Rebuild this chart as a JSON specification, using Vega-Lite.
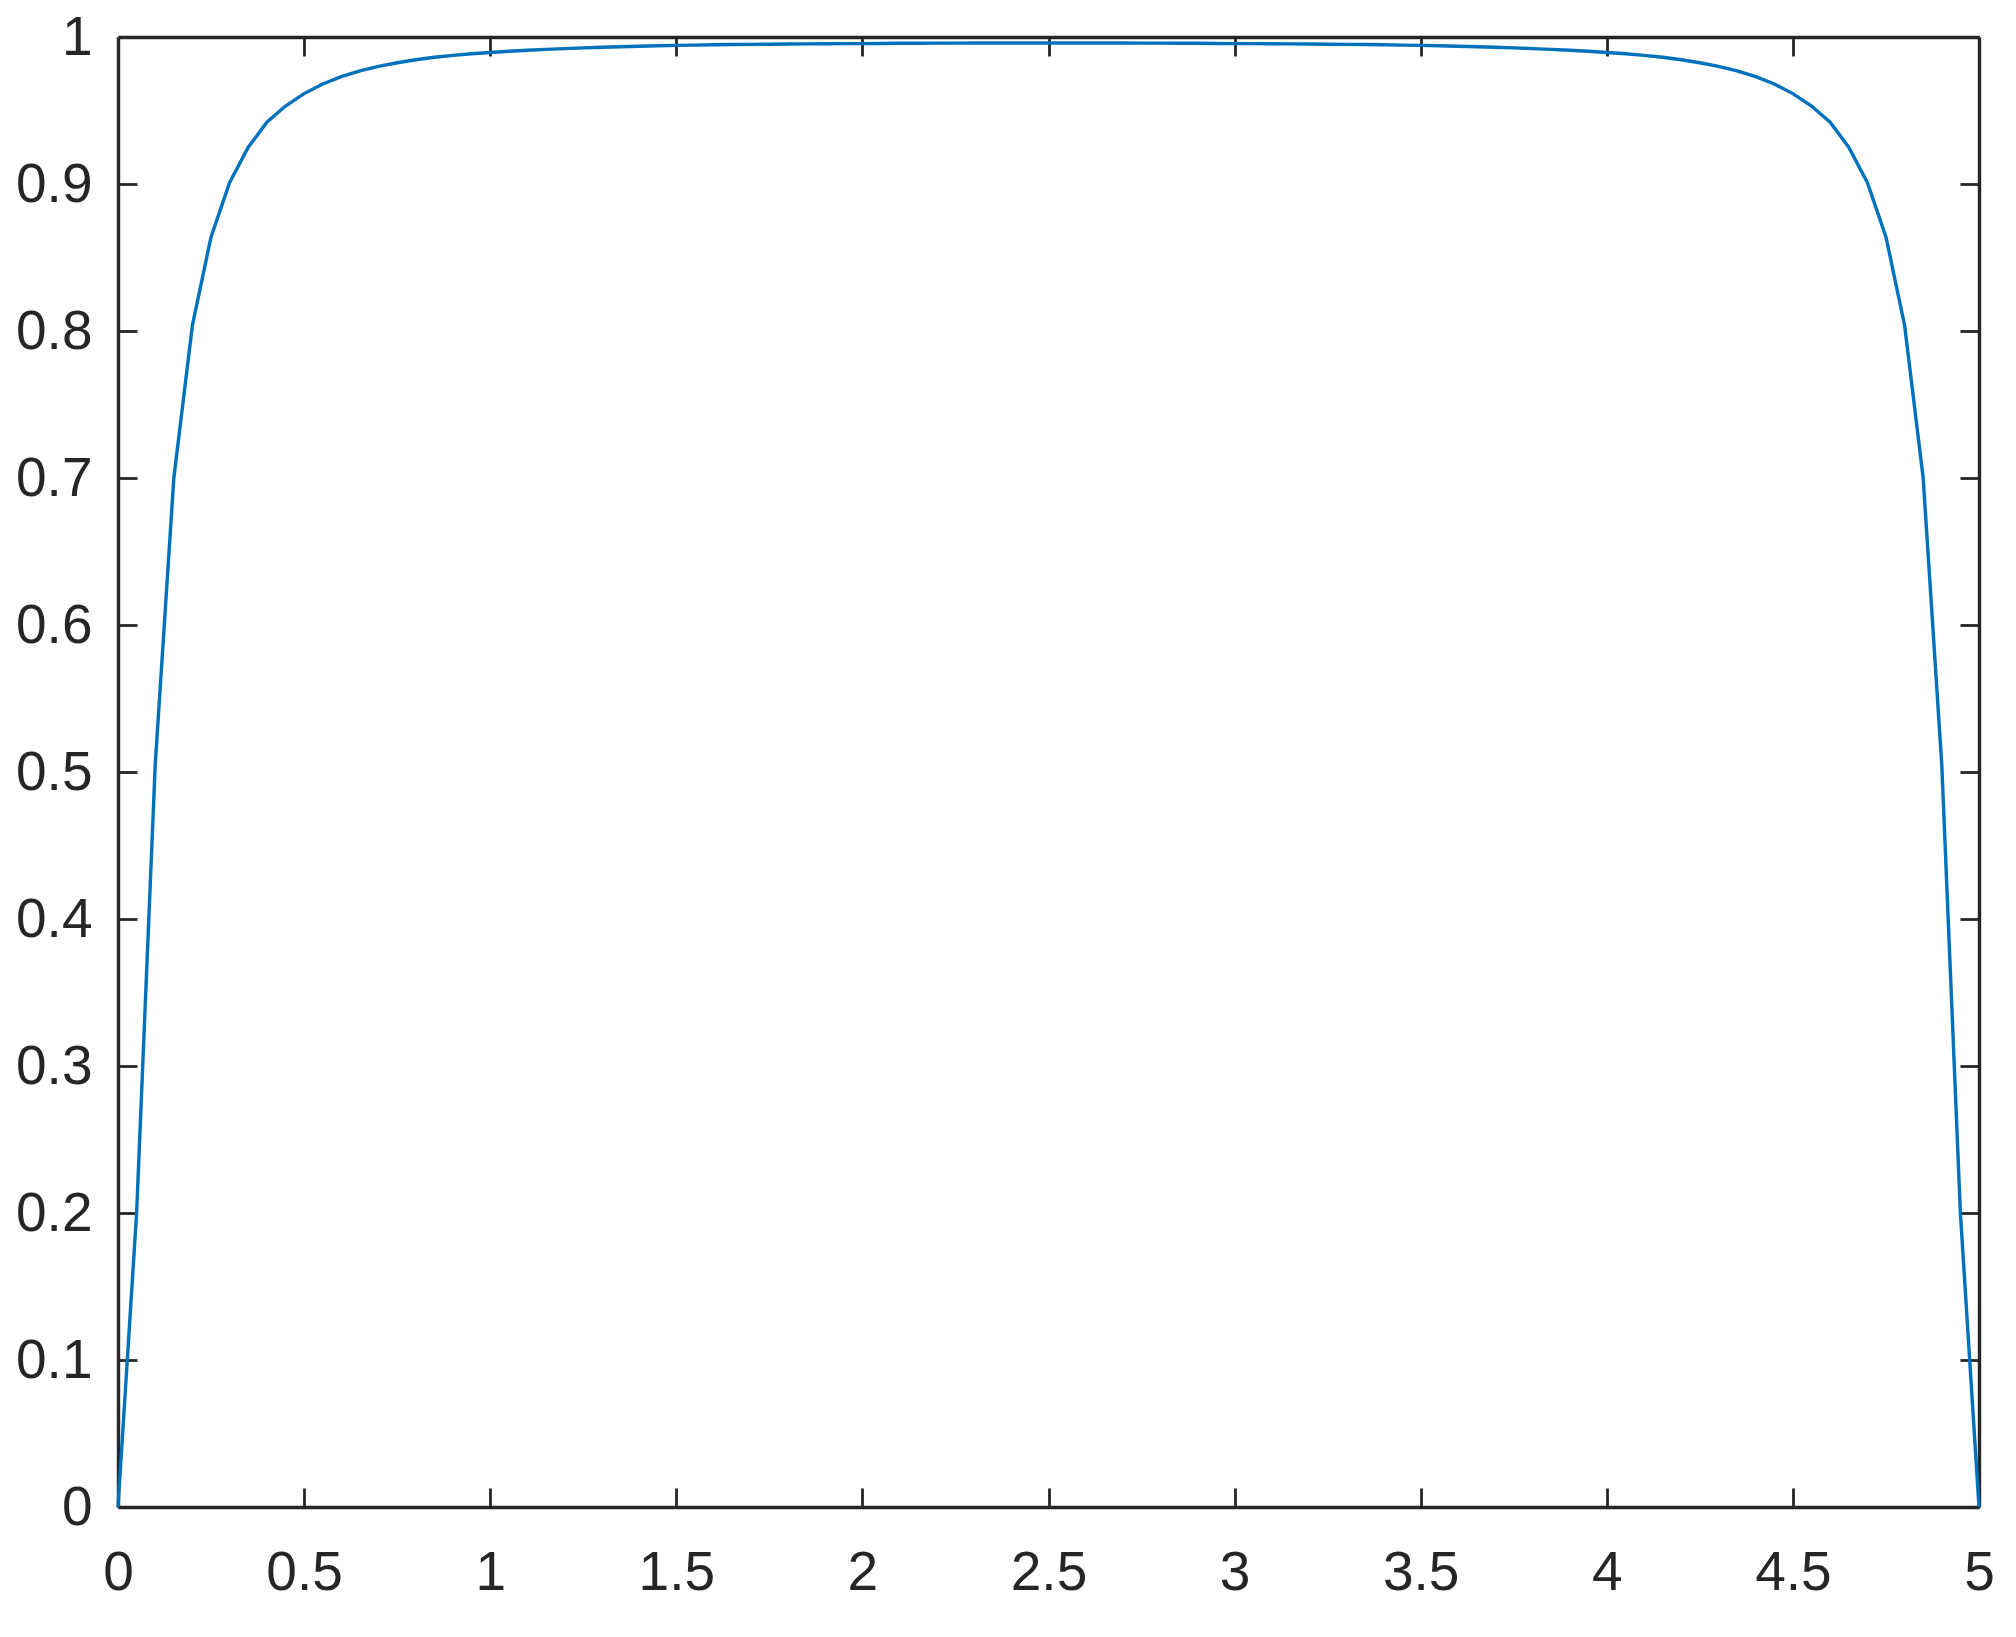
{
  "$schema": "https://vega.github.io/schema/vega-lite/v6.json",
  "autosize": "none",
  "width": 1861,
  "height": 1470,
  "padding": {"left": 118, "top": 37, "right": 37, "bottom": 130},
  "background": "white",
  "config": {
    "view": {"stroke": null},
    "axis": {
      "grid": false,
      "domainColor": "#262626",
      "domainWidth": 3.4,
      "tickColor": "#262626",
      "tickWidth": 2.8,
      "tickSize": -19,
      "labelColor": "#262626",
      "labelFont": "Liberation Sans",
      "labelFontSize": 55,
      "format": "~g",
      "title": null
    }
  },
  "data": {
    "values": [
      {"x": 0.00, "y": 0.0},
      {"x": 0.05, "y": 0.200},
      {"x": 0.10, "y": 0.505},
      {"x": 0.15, "y": 0.700},
      {"x": 0.20, "y": 0.804},
      {"x": 0.25, "y": 0.864},
      {"x": 0.30, "y": 0.901},
      {"x": 0.35, "y": 0.925},
      {"x": 0.40, "y": 0.942},
      {"x": 0.45, "y": 0.953},
      {"x": 0.50, "y": 0.9615},
      {"x": 0.55, "y": 0.968},
      {"x": 0.60, "y": 0.973},
      {"x": 0.65, "y": 0.977},
      {"x": 0.70, "y": 0.980},
      {"x": 0.75, "y": 0.9825},
      {"x": 0.80, "y": 0.9845},
      {"x": 0.85, "y": 0.9862},
      {"x": 0.90, "y": 0.9875},
      {"x": 0.95, "y": 0.9886},
      {"x": 1.00, "y": 0.9895},
      {"x": 1.05, "y": 0.9903},
      {"x": 1.10, "y": 0.9910},
      {"x": 1.15, "y": 0.9916},
      {"x": 1.20, "y": 0.9921},
      {"x": 1.25, "y": 0.9926},
      {"x": 1.30, "y": 0.9930},
      {"x": 1.35, "y": 0.9934},
      {"x": 1.40, "y": 0.9937},
      {"x": 1.45, "y": 0.9940},
      {"x": 1.50, "y": 0.9943},
      {"x": 1.55, "y": 0.9945},
      {"x": 1.60, "y": 0.9947},
      {"x": 1.65, "y": 0.9949},
      {"x": 1.70, "y": 0.9950},
      {"x": 1.75, "y": 0.9951},
      {"x": 1.80, "y": 0.9952},
      {"x": 1.85, "y": 0.9953},
      {"x": 1.90, "y": 0.9954},
      {"x": 1.95, "y": 0.9955},
      {"x": 2.00, "y": 0.9955},
      {"x": 2.05, "y": 0.9956},
      {"x": 2.10, "y": 0.9957},
      {"x": 2.15, "y": 0.9957},
      {"x": 2.20, "y": 0.9958},
      {"x": 2.25, "y": 0.9958},
      {"x": 2.30, "y": 0.9959},
      {"x": 2.35, "y": 0.9959},
      {"x": 2.40, "y": 0.9959},
      {"x": 2.45, "y": 0.9959},
      {"x": 2.50, "y": 0.9959},
      {"x": 2.55, "y": 0.9959},
      {"x": 2.60, "y": 0.9959},
      {"x": 2.65, "y": 0.9959},
      {"x": 2.70, "y": 0.9959},
      {"x": 2.75, "y": 0.9958},
      {"x": 2.80, "y": 0.9958},
      {"x": 2.85, "y": 0.9957},
      {"x": 2.90, "y": 0.9957},
      {"x": 2.95, "y": 0.9956},
      {"x": 3.00, "y": 0.9955},
      {"x": 3.05, "y": 0.9955},
      {"x": 3.10, "y": 0.9954},
      {"x": 3.15, "y": 0.9953},
      {"x": 3.20, "y": 0.9952},
      {"x": 3.25, "y": 0.9951},
      {"x": 3.30, "y": 0.9950},
      {"x": 3.35, "y": 0.9949},
      {"x": 3.40, "y": 0.9947},
      {"x": 3.45, "y": 0.9945},
      {"x": 3.50, "y": 0.9943},
      {"x": 3.55, "y": 0.9940},
      {"x": 3.60, "y": 0.9937},
      {"x": 3.65, "y": 0.9934},
      {"x": 3.70, "y": 0.9930},
      {"x": 3.75, "y": 0.9926},
      {"x": 3.80, "y": 0.9921},
      {"x": 3.85, "y": 0.9916},
      {"x": 3.90, "y": 0.9910},
      {"x": 3.95, "y": 0.9903},
      {"x": 4.00, "y": 0.9895},
      {"x": 4.05, "y": 0.9886},
      {"x": 4.10, "y": 0.9875},
      {"x": 4.15, "y": 0.9862},
      {"x": 4.20, "y": 0.9845},
      {"x": 4.25, "y": 0.9825},
      {"x": 4.30, "y": 0.980},
      {"x": 4.35, "y": 0.977},
      {"x": 4.40, "y": 0.973},
      {"x": 4.45, "y": 0.968},
      {"x": 4.50, "y": 0.9615},
      {"x": 4.55, "y": 0.953},
      {"x": 4.60, "y": 0.942},
      {"x": 4.65, "y": 0.925},
      {"x": 4.70, "y": 0.901},
      {"x": 4.75, "y": 0.864},
      {"x": 4.80, "y": 0.804},
      {"x": 4.85, "y": 0.700},
      {"x": 4.90, "y": 0.505},
      {"x": 4.95, "y": 0.200},
      {"x": 5.00, "y": 0.0}
    ]
  },
  "layer": [
    {
      "mark": {"type": "line", "color": "#0072BD", "strokeWidth": 3.4, "clip": false},
      "encoding": {
        "x": {
          "field": "x", "type": "quantitative",
          "scale": {"domain": [0, 5], "nice": false, "zero": false},
          "axis": {"orient": "bottom", "values": [0, 0.5, 1, 1.5, 2, 2.5, 3, 3.5, 4, 4.5, 5], "labelPadding": 58, "labelBaseline": "top", "labelFlush": false, "labelOverlap": false}
        },
        "y": {
          "field": "y", "type": "quantitative",
          "scale": {"domain": [0, 1], "nice": false, "zero": false},
          "axis": {"orient": "left", "values": [0, 0.1, 0.2, 0.3, 0.4, 0.5, 0.6, 0.7, 0.8, 0.9, 1], "labelPadding": 45, "labelBaseline": "middle", "labelFlush": false, "labelOverlap": false}
        }
      }
    },
    {
      "mark": {"type": "line", "opacity": 0},
      "encoding": {
        "x": {
          "field": "x", "type": "quantitative",
          "axis": {"orient": "top", "values": [0, 0.5, 1, 1.5, 2, 2.5, 3, 3.5, 4, 4.5, 5], "labels": false}
        },
        "y": {
          "field": "y", "type": "quantitative",
          "axis": {"orient": "right", "values": [0, 0.1, 0.2, 0.3, 0.4, 0.5, 0.6, 0.7, 0.8, 0.9, 1], "labels": false}
        }
      }
    }
  ],
  "resolve": {"axis": {"x": "independent", "y": "independent"}}
}
